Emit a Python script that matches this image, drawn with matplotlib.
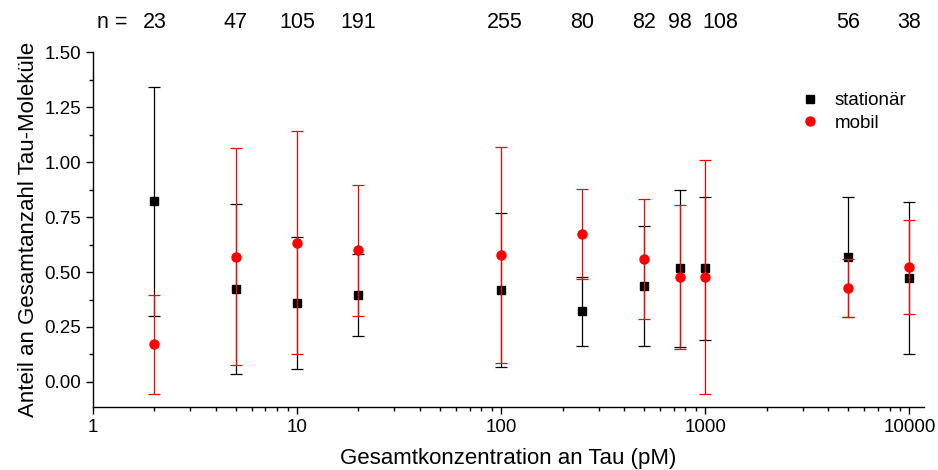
import matplotlib
matplotlib.use("Agg")
import matplotlib.pyplot as plt
import matplotlib.transforms as mtransforms
import numpy as np
from matplotlib.ticker import FixedLocator, LogLocator, NullFormatter, FuncFormatter
from matplotlib.lines import Line2D

plt.rcParams['font.family'] = ['Liberation Sans', 'DejaVu Sans']

conc = [2, 5, 10, 20, 100, 250, 500, 750, 1000, 5000, 10000]
n_counts = ['23', '47', '105', '191', '255', '80', '82', '98', '108', '56', '38']

stat_val = [0.821, 0.423, 0.358, 0.394, 0.418, 0.323, 0.436, 0.517, 0.517, 0.568, 0.471]
stat_hi  = [1.342, 0.809, 0.661, 0.582, 0.767, 0.479, 0.709, 0.874, 0.841, 0.839, 0.817]
stat_lo  = [0.301, 0.035, 0.057, 0.208, 0.068, 0.165, 0.165, 0.158, 0.191, 0.295, 0.126]

mob_val = [0.171, 0.570, 0.633, 0.599, 0.577, 0.671, 0.558, 0.477, 0.477, 0.426, 0.523]
mob_hi  = [0.395, 1.064, 1.141, 0.894, 1.067, 0.877, 0.830, 0.803, 1.009, 0.558, 0.738]
mob_lo  = [-0.053, 0.076, 0.127, 0.301, 0.085, 0.467, 0.286, 0.152, -0.053, 0.295, 0.308]

fig = plt.figure(figsize=(9.38, 4.70), dpi=100)
ax = fig.add_axes([0.0991, 0.134, 0.886, 0.755])

sv = np.array(stat_val); mv = np.array(mob_val)
s_err = [sv - np.array(stat_lo), np.array(stat_hi) - sv]
m_err = [mv - np.array(mob_lo), np.array(mob_hi) - mv]

ax.errorbar(conc, stat_val, yerr=s_err, fmt='s', color='black', ms=5.5,
            elinewidth=0.9, capsize=4.5, capthick=0.9, zorder=2)
ax.errorbar(conc, mob_val, yerr=m_err, fmt='o', color='#ff0000', ms=6.5,
            elinewidth=0.9, capsize=4.5, capthick=0.9, zorder=3)

ax.set_xscale('log')
ax.set_xlim(1, 11800)
ax.set_ylim(-0.114, 1.5)
ax.xaxis.set_major_locator(FixedLocator([1, 10, 100, 1000, 10000]))
ax.xaxis.set_major_formatter(FuncFormatter(lambda v, p: f"{int(round(v))}"))
ax.xaxis.set_minor_locator(LogLocator(base=10, subs=np.arange(2, 10), numticks=20))
ax.xaxis.set_minor_formatter(NullFormatter())
ax.set_yticks([0, 0.25, 0.5, 0.75, 1.0, 1.25, 1.5])
ax.set_yticklabels(['0.00', '0.25', '0.50', '0.75', '1.00', '1.25', '1.50'])
ax.yaxis.set_minor_locator(FixedLocator(np.arange(0.125, 1.5, 0.25)))

for s in ['top', 'right']:
    ax.spines[s].set_visible(False)
for s in ['left', 'bottom']:
    ax.spines[s].set_linewidth(1.0)
ax.tick_params(which='major', direction='out', length=5, width=1.0, labelsize=13.5)
ax.tick_params(which='minor', direction='out', length=3, width=1.0)

ax.set_xlabel('Gesamtkonzentration an Tau (pM)', fontsize=16, labelpad=9)
ax.set_ylabel('Anteil an Gesamtanzahl Tau-Moleküle', fontsize=16, labelpad=4)

# label nudges (in pixels) so neighbouring labels do not collide, as in the original
nudge_px = {'255': 4, '108': 15}
base_tr = ax.get_xaxis_transform()
for x, n in zip(conc, n_counts):
    tr = mtransforms.offset_copy(base_tr, fig=fig, x=nudge_px.get(n, 0), y=0, units='dots')
    ax.text(x, 1.085, n, transform=tr, ha='center', va='center', fontsize=15.5)
ax.text(1.24, 1.085, 'n =', transform=base_tr, ha='center', va='center', fontsize=15.5)

handles = [Line2D([], [], ls='none', marker='s', color='black', ms=5.5),
           Line2D([], [], ls='none', marker='o', color='#ff0000', ms=6.5)]
ax.legend(handles, ['stationär', 'mobil'], loc='upper left',
          bbox_to_anchor=(0.825, 0.935), frameon=False, fontsize=13.5,
          handletextpad=0.6, labelspacing=0.3, handlelength=1.5)

fig.savefig('out.png', dpi=100)
